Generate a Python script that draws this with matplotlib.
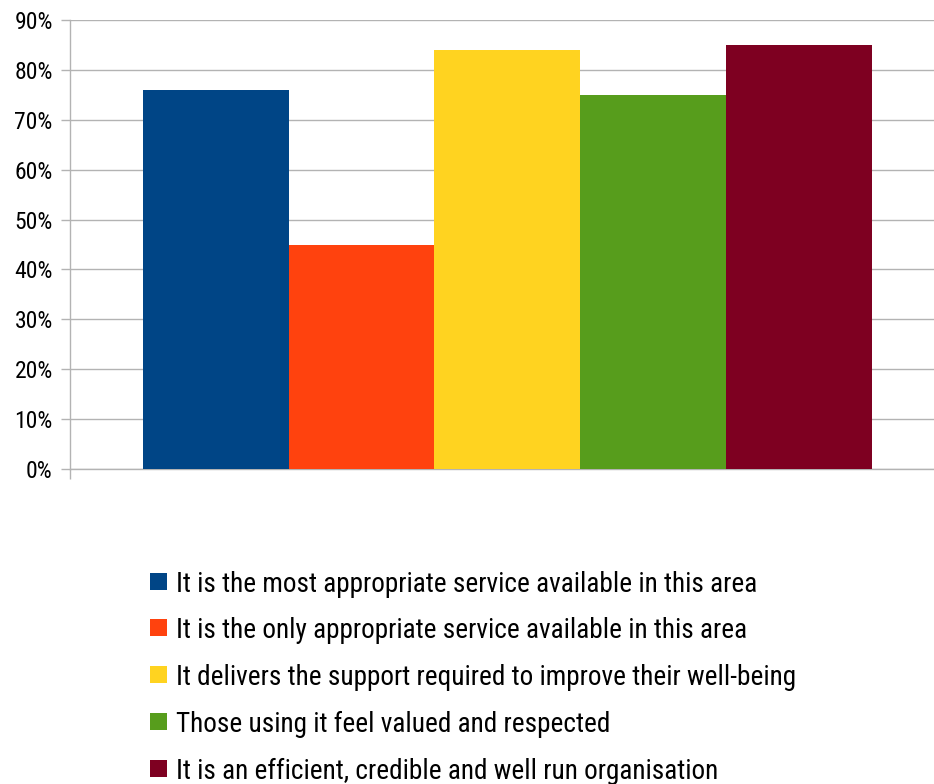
import matplotlib
matplotlib.use("Agg")
import matplotlib.pyplot as plt
from matplotlib.patches import Rectangle

# Survey results: share of respondents agreeing with each statement
statements = [
    "It is the most appropriate service available in this area",
    "It is the only appropriate service available in this area",
    "It delivers the support required to improve their well-being",
    "Those using it feel valued and respected",
    "It is an efficient, credible and well run organisation",
]
percentages = [76, 45, 84, 75, 85]
colors = ["#004586", "#ff420e", "#ffd320", "#579d1c", "#7e0021"]
y_ticks = [0, 10, 20, 30, 40, 50, 60, 70, 80, 90]
y_tick_labels = [f"{v}%" for v in y_ticks]

plt.rcParams["font.family"] = ["Roboto Condensed", "Liberation Sans", "DejaVu Sans"]

W, H = 934, 784
fig = plt.figure(figsize=(W / 100, H / 100), dpi=100)
ax = fig.add_axes([70 / W, 1 - 469 / H, 874.8 / W, 449 / H])

grid_color = "#b3b3b3"
positions = list(range(len(percentages)))
ax.bar(positions, percentages, width=1.0, color=colors, zorder=3)

ax.set_xlim(-1, 5)
ax.set_ylim(0, 90)
ax.set_yticks(y_ticks)
ax.set_yticklabels(y_tick_labels, fontsize=17, color="#000000")
ax.set_xticks([-1, 5])
ax.set_xticklabels([])

ax.yaxis.grid(True, color=grid_color, linewidth=1.0, zorder=0)
ax.tick_params(axis="y", length=6.5, width=1.0, color=grid_color, pad=6)
ax.tick_params(axis="x", length=7, width=1.0, color=grid_color, direction="out")

for side in ("top", "right"):
    ax.spines[side].set_visible(False)
for side in ("left", "bottom"):
    ax.spines[side].set_color(grid_color)
    ax.spines[side].set_linewidth(1.0)

# Legend below the plot: colour swatch followed by the statement
row_top, row_step, box = 572.5, 46.9, 17
for i, (label, color) in enumerate(zip(statements, colors)):
    top = row_top + i * row_step
    fig.patches.append(Rectangle((150 / W, 1 - (top + box) / H), box / W, box / H,
                                 transform=fig.transFigure, facecolor=color,
                                 edgecolor="none"))
    fig.text(176 / W, 1 - (top + box + 2) / H, label, fontsize=19.6,
             va="baseline", ha="left", color="#000000")

fig.savefig("out.png", dpi=100)
